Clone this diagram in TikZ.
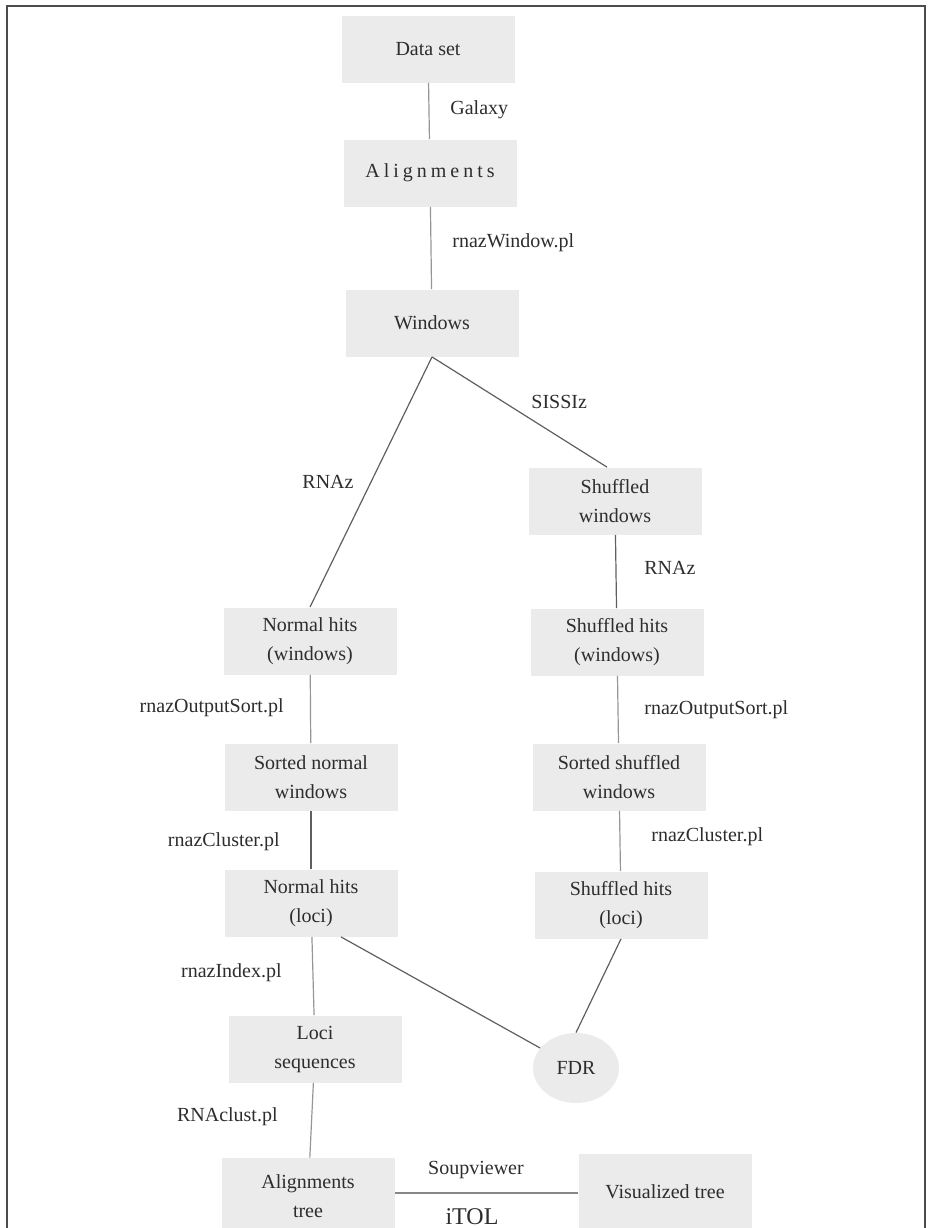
\documentclass[tikz,border=0pt]{standalone}
\usepackage{fontspec}
\setmainfont{Liberation Serif}
\usetikzlibrary{shapes.geometric}
\definecolor{boxfill}{RGB}{235,235,235}
\definecolor{stemline}{RGB}{150,150,150}
\definecolor{forkline}{RGB}{95,95,95}
\definecolor{inkgray}{RGB}{45,45,45}
\tikzset{
  stage/.style={rectangle,fill=boxfill,minimum width=86.5pt,minimum height=33.5pt,
    align=center,inner sep=2pt,text=inkgray,font=\fontsize{10}{14.5}\selectfont},
  tool/.style={text=inkgray,font=\fontsize{10}{12}\selectfont,inner sep=1pt},
  stem/.style={draw=stemline,line width=0.6pt},
  fork/.style={draw=forkline,line width=0.6pt},
}
\begin{document}
\begin{tikzpicture}[x=0.5pt,y=-0.5pt]
\useasboundingbox (0,0) rectangle (929,1228);
\draw[line width=0.8pt,draw=black!70] (7,1240) -- (7,6) -- (925,6) -- (925,1240);

% stages
\node[stage] (dataset) at (428,49) {Data set};
\node[stage] (align) at (430,173) {\addfontfeature{LetterSpace=20}Alignments};
\node[stage] (windows) at (432,323) {Windows};
\node[stage] (shufwin) at (615,501) {Shuffled\\windows};
\node[stage] (normhitsw) at (310,641) {Normal hits\\(windows)};
\node[stage] (shufhitsw) at (617,642) {Shuffled hits\\(windows)};
\node[stage] (sortnorm) at (311,777) {Sorted normal\\windows};
\node[stage] (sortshuf) at (619,777) {Sorted shuffled\\windows};
\node[stage] (normloci) at (311,903) {Normal hits\\(loci)};
\node[stage] (shufloci) at (621,905) {Shuffled hits\\(loci)};
\node[stage] (locisq) at (315,1049) {Loci\\sequences};
\node[ellipse,fill=boxfill,minimum width=43pt,minimum height=35pt,inner sep=1pt,text=inkgray] (fdr) at (576,1068) {FDR};
\node[stage,minimum height=38pt] (alntree) at (308,1196) {Alignments\\tree};
\node[stage,minimum height=38pt] (vistree) at (665,1192) {Visualized tree};

% connectors
\draw[stem] (dataset) -- (align);
\draw[stem] (align) -- (windows);
\draw[fork] (windows.south) -- (normhitsw.north);
\draw[fork] (windows.south) -- ([xshift=-4pt]shufwin.north);
\draw[fork] (shufwin) -- (shufhitsw);
\draw[stem] (normhitsw) -- (sortnorm);
\draw[stem] (shufhitsw) -- (sortshuf);
\draw[fork] (sortnorm) -- (normloci);
\draw[stem] (sortshuf) -- (shufloci);
\draw[fork] ([xshift=15pt]normloci.south) -- (fdr);
\draw[fork] (shufloci.south) -- (fdr.north);
\draw[stem] (normloci) -- (locisq);
\draw[stem] (locisq) -- (alntree);
\draw[draw=stemline!90!black,line width=1pt] (alntree.east |- 0,1193) -- (vistree.west |- 0,1193);

% tool labels
\node[tool,anchor=west] (galaxy) at (448,110) {Galaxy};
\node[tool,anchor=west] (rnazwin) at (450,243) {rnazWindow.pl};
\node[tool,anchor=west] (sissiz) at (529,402) {SISSIz};
\node[tool] (rnazl) at (328,482) {RNAz};
\node[tool,anchor=west] (rnazr) at (642,568) {RNAz};
\node[tool,anchor=east] (sortl) at (286,708) {rnazOutputSort.pl};
\node[tool,anchor=west] (sortr) at (642,710) {rnazOutputSort.pl};
\node[tool,anchor=east] (clustl) at (282,842) {rnazCluster.pl};
\node[tool,anchor=west] (clustr) at (649,837) {rnazCluster.pl};
\node[tool,anchor=east] (index) at (284,973) {rnazIndex.pl};
\node[tool,anchor=east] (rnaclust) at (280,1117) {RNAclust.pl};
\node[tool] (soup) at (476,1170) {Soupviewer};
\node[tool,font=\fontsize{12}{14}\selectfont] (itol) at (472,1217) {iTOL};
\end{tikzpicture}
\end{document}
